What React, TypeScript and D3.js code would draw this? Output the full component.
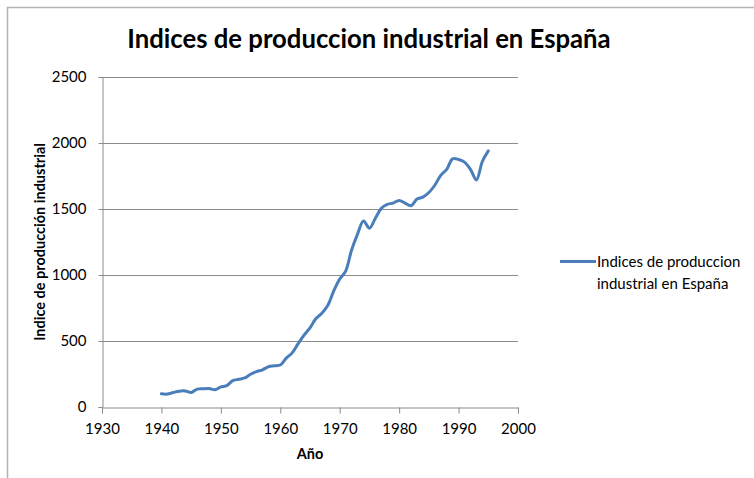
import React, { useEffect, useRef } from 'react'
import * as d3 from 'd3'

// Indice de produccion industrial, Espana
const years = [
  1940, 1941, 1942, 1943, 1944, 1945, 1946, 1947, 1948, 1949,
  1950, 1951, 1952, 1953, 1954, 1955, 1956, 1957, 1958, 1959,
  1960, 1961, 1962, 1963, 1964, 1965, 1966, 1967, 1968, 1969,
  1970, 1971, 1972, 1973, 1974, 1975, 1976, 1977, 1978, 1979,
  1980, 1981, 1982, 1983, 1984, 1985, 1986, 1987, 1988, 1989,
  1990, 1991, 1992, 1993, 1994, 1995,
]
const indices = [
  100, 98, 110, 120, 122, 110, 135, 138, 140, 130,
  152, 162, 200, 210, 220, 248, 268, 282, 305, 312,
  318, 370, 410, 480, 545, 600, 670, 710, 770, 880,
  970, 1030, 1190, 1310, 1410, 1355, 1430, 1505, 1535, 1545,
  1565, 1545, 1525, 1575, 1590, 1625, 1680, 1755, 1800, 1880,
  1875, 1855, 1800, 1720, 1860, 1940,
]
const xTicks = [1930, 1940, 1950, 1960, 1970, 1980, 1990, 2000]
const yTicks = [0, 500, 1000, 1500, 2000, 2500]

const title = 'Indices de produccion industrial en España'
const xTitle = 'Año'
const yTitle = 'Indice de producción industrial'
const legendLines = ['Indices de produccion', 'industrial en España']

function App() {
  const svg = useRef<SVGSVGElement>(null)

  useEffect(() => {
    const root = d3.select(svg.current)
    root.selectAll('*').remove()

    const font = 'Lato, "Open Sans", sans-serif'
    const blue = '#4A7EBB'
    const grid = '#8c8c8c'

    const x = d3.scaleLinear().domain([1930, 2000]).range([102, 518])
    const y = d3.scaleLinear().domain([0, 2500]).range([407, 77])

    // chart frame (cut off at right and bottom)
    root.append('path')
      .attr('d', 'M7.5,480 L7.5,7.5 L760,7.5')
      .attr('fill', 'none')
      .attr('stroke', '#b3b3b3')
      .attr('stroke-width', 1.5)

    root.append('text')
      .attr('x', 369)
      .attr('y', 48)
      .attr('text-anchor', 'middle')
      .style('font', `bold 25.7px ${font}`)
      .attr('fill', '#000')
      .text(title)

    // gridlines
    root.append('g')
      .selectAll('line')
      .data(yTicks.filter(d => d > 0))
      .join('line')
      .attr('x1', x(1930))
      .attr('x2', x(2000))
      .attr('y1', d => Math.round(y(d)) + 0.5)
      .attr('y2', d => Math.round(y(d)) + 0.5)
      .attr('stroke', grid)

    // y axis
    const yAxis = root.append('g')
      .attr('transform', `translate(${x(1930) + 0.5},0)`)
      .call(d3.axisLeft(y).tickValues(yTicks).tickFormat(d3.format('d')).tickSize(4).tickPadding(12))
    yAxis.select('.domain').attr('stroke', grid)
    yAxis.selectAll('line').attr('stroke', grid)
    yAxis.selectAll('text').style('font', `15px ${font}`).attr('fill', '#000')

    // x axis
    const xAxis = root.append('g')
      .attr('transform', `translate(0,${Math.round(y(0)) + 0.5})`)
      .call(d3.axisBottom(x).tickValues(xTicks).tickFormat(d3.format('d')).tickSize(6).tickPadding(10))
    xAxis.select('.domain').attr('stroke', grid)
    xAxis.selectAll('line').attr('stroke', grid)
    xAxis.selectAll('text').style('font', `15px ${font}`).attr('fill', '#000')

    root.append('text')
      .attr('x', 310)
      .attr('y', 459)
      .attr('text-anchor', 'middle')
      .style('font', `bold 14.5px ${font}`)
      .text(xTitle)

    root.append('text')
      .attr('transform', `translate(45,${y(1250)}) rotate(-90)`)
      .attr('text-anchor', 'middle')
      .style('font', `bold 14.5px ${font}`)
      .text(yTitle)

    // series
    const line = d3.line<number>()
      .x((d, i) => x(years[i]))
      .y(d => y(d))
      .curve(d3.curveCatmullRom.alpha(0.5))

    root.append('path')
      .datum(indices)
      .attr('d', line)
      .attr('fill', 'none')
      .attr('stroke', blue)
      .attr('stroke-width', 3)
      .attr('stroke-linejoin', 'round')
      .attr('stroke-linecap', 'round')

    // legend
    root.append('line')
      .attr('x1', 560)
      .attr('x2', 596)
      .attr('y1', 261.5)
      .attr('y2', 261.5)
      .attr('stroke', blue)
      .attr('stroke-width', 3)

    root.append('g')
      .selectAll('text')
      .data(legendLines)
      .join('text')
      .attr('x', 597)
      .attr('y', (d, i) => 266.5 + i * 22)
      .style('font', `15px ${font}`)
      .attr('fill', '#000')
      .text(d => d)
  }, [])

  return (
    <svg
      ref={svg}
      width={754}
      height={478}
      style={{ position: 'absolute', left: 0, top: 0, background: '#fff' }}
    ></svg>
  )
}

export default App
